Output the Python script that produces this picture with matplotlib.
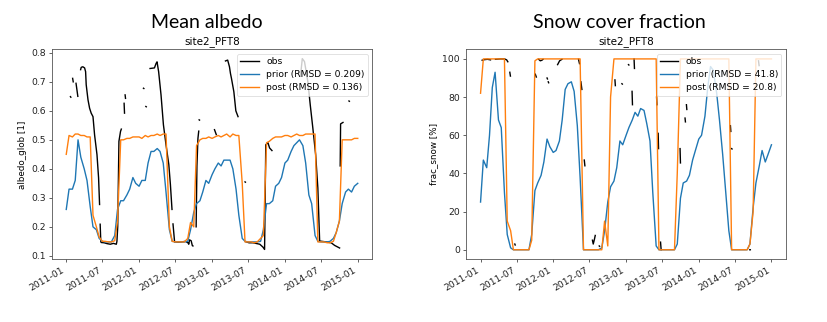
import numpy as np
import pandas as pd
import matplotlib
matplotlib.use("Agg")
import matplotlib.pyplot as plt
import matplotlib.dates as mdates

# ---------------- data ----------------
dates = pd.date_range("2011-01-01", "2015-01-01", freq="SMS")  # 1st and 15th of each month

prior_albedo = [
    0.26, 0.33, 0.33, 0.36, 0.50, 0.44, 0.40, 0.36, 0.27, 0.20, 0.19, 0.16,
    0.15, 0.148, 0.148, 0.148, 0.17, 0.26, 0.29, 0.29, 0.31, 0.33, 0.37, 0.35,
    0.34, 0.36, 0.36, 0.42, 0.46, 0.46, 0.47, 0.46, 0.42, 0.32, 0.19, 0.15,
    0.148, 0.148, 0.148, 0.148, 0.15, 0.19, 0.25, 0.28, 0.29, 0.32, 0.36, 0.35,
    0.38, 0.40, 0.42, 0.41, 0.43, 0.43, 0.43, 0.40, 0.33, 0.24, 0.16, 0.15,
    0.148, 0.148, 0.148, 0.148, 0.15, 0.19, 0.28, 0.28, 0.29, 0.34, 0.35, 0.37,
    0.42, 0.43, 0.46, 0.48, 0.49, 0.50, 0.48, 0.42, 0.31, 0.28, 0.17, 0.15,
    0.148, 0.148, 0.148, 0.15, 0.16, 0.18, 0.22, 0.28, 0.32, 0.33, 0.32, 0.34,
    0.35,
]
post_albedo = [
    0.45, 0.515, 0.51, 0.52, 0.52, 0.515, 0.515, 0.51, 0.51, 0.24, 0.20, 0.165,
    0.15, 0.15, 0.148, 0.148, 0.152, 0.22, 0.50, 0.50, 0.505, 0.505, 0.51, 0.51,
    0.51, 0.505, 0.515, 0.51, 0.515, 0.515, 0.52, 0.515, 0.52, 0.52, 0.20, 0.15,
    0.148, 0.148, 0.148, 0.148, 0.16, 0.215, 0.20, 0.48, 0.50, 0.505, 0.505, 0.51,
    0.505, 0.51, 0.515, 0.51, 0.515, 0.52, 0.51, 0.52, 0.515, 0.515, 0.35, 0.148,
    0.148, 0.148, 0.145, 0.148, 0.16, 0.17, 0.49, 0.495, 0.505, 0.51, 0.51, 0.51,
    0.515, 0.515, 0.51, 0.515, 0.52, 0.515, 0.515, 0.52, 0.52, 0.52, 0.52, 0.148,
    0.148, 0.148, 0.145, 0.145, 0.15, 0.18, 0.22, 0.50, 0.50, 0.50, 0.50, 0.505,
    0.505,
]
prior_snow = [
    25, 47, 43, 60, 85, 93, 68, 64, 30, 8, 1, 0,
    0, 0, 0, 0, 0, 8, 31, 35, 39, 46, 58, 54,
    51, 52, 57, 68, 84, 87, 88, 83, 65, 38, 0, 0,
    0, 0, 0, 0, 1, 10, 25, 33, 36, 43, 57, 55,
    60, 64, 68, 72, 70, 74, 73, 66, 57, 30, 2, 0,
    0, 0, 0, 0, 0, 3, 27, 35, 36, 39, 47, 52,
    58, 60, 70, 85, 96, 94, 82, 68, 50, 32, 10, 0,
    0, 0, 0, 0, 0, 3, 22, 35, 44, 52, 46, 50,
    55,
]
post_snow = [
    82, 100, 100, 100, 100, 100, 100, 100, 100, 15, 10, 0,
    0, 0, 0, 0, 0, 5, 99, 100, 100, 100, 100, 100,
    100, 100, 100, 100, 100, 100, 100, 100, 100, 100, 0, 0,
    0, 0, 0, 0, 0, 15, 2, 80, 100, 100, 100, 100,
    100, 100, 100, 100, 100, 100, 100, 100, 100, 100, 100, 0,
    0, 0, 0, 0, 0, 40, 100, 100, 100, 100, 100, 100,
    100, 100, 100, 100, 100, 100, 100, 100, 100, 100, 100, 0,
    0, 0, 0, 0, 0, 3, 20, 100, 100, 100, 100, 100,
    100,
]

# observations: (date, value), None = gap
obs_albedo = [
    ("2011-01-22", 0.649), ("2011-01-24", 0.647), None,
    ("2011-02-02", 0.712), ("2011-02-05", 0.700), None,
    ("2011-02-19", 0.695), ("2011-02-24", 0.670), ("2011-02-28", 0.650), None,
    ("2011-03-14", 0.742), ("2011-03-17", 0.750), ("2011-03-25", 0.752), ("2011-04-03", 0.748),
    ("2011-04-08", 0.735), ("2011-04-11", 0.690), ("2011-04-20", 0.638), ("2011-04-28", 0.609),
    ("2011-05-06", 0.592), ("2011-05-15", 0.580), ("2011-05-23", 0.517), ("2011-06-04", 0.449),
    ("2011-06-12", 0.369), ("2011-06-17", 0.277), None,
    ("2011-06-20", 0.209), ("2011-06-23", 0.150), ("2011-06-25", 0.146), ("2011-07-10", 0.145),
    ("2011-07-25", 0.142), ("2011-08-10", 0.140), ("2011-08-25", 0.143), ("2011-09-09", 0.140),
    ("2011-09-12", 0.150), ("2011-09-16", 0.200), ("2011-09-22", 0.495), ("2011-09-30", 0.529),
    ("2011-10-04", 0.537), None,
    ("2011-10-18", 0.626), ("2011-10-20", 0.592), None,
    ("2011-10-23", 0.655), ("2011-10-25", 0.643), None,
    ("2012-01-23", 0.678), ("2012-01-25", 0.677), None,
    ("2012-02-04", 0.615), ("2012-02-06", 0.614), None,
    ("2012-02-25", 0.746), ("2012-03-18", 0.748), ("2012-03-26", 0.763), ("2012-03-31", 0.769),
    ("2012-04-08", 0.735), ("2012-04-20", 0.655), ("2012-05-02", 0.552), ("2012-05-15", 0.483),
    ("2012-05-29", 0.415), ("2012-06-06", 0.346), ("2012-06-14", 0.260), None,
    ("2012-06-19", 0.210), ("2012-06-27", 0.148), ("2012-07-15", 0.147), ("2012-08-01", 0.148),
    ("2012-08-20", 0.150), ("2012-09-02", 0.145), ("2012-09-06", 0.140), ("2012-09-10", 0.155),
    ("2012-09-18", 0.152), ("2012-09-24", 0.135), ("2012-09-27", 0.134), None,
    ("2012-10-13", 0.200), ("2012-10-17", 0.410), ("2012-10-22", 0.505), ("2012-10-26", 0.530), None,
    ("2012-10-28", 0.569), ("2012-10-30", 0.568), None,
    ("2013-01-13", 0.535), ("2013-01-18", 0.525), ("2013-01-22", 0.518), None,
    ("2013-03-09", 0.772), ("2013-03-20", 0.775), ("2013-03-29", 0.752), ("2013-04-03", 0.729),
    ("2013-04-08", 0.712), ("2013-04-20", 0.666), ("2013-04-30", 0.600), ("2013-05-11", 0.580), None,
    ("2013-06-15", 0.355), ("2013-06-17", 0.354), None,
    ("2013-06-18", 0.149), ("2013-07-05", 0.145), ("2013-07-25", 0.145), ("2013-08-15", 0.142),
    ("2013-08-28", 0.140), ("2013-09-05", 0.135), ("2013-09-13", 0.130), ("2013-09-21", 0.122),
    ("2013-09-27", 0.483), ("2013-10-08", 0.490), ("2013-10-16", 0.472), ("2013-10-28", 0.463), None,
    ("2014-03-20", 0.720), ("2014-03-29", 0.780), ("2014-04-09", 0.770), ("2014-04-26", 0.700),
    ("2014-05-08", 0.620), ("2014-05-21", 0.540), ("2014-06-04", 0.449), ("2014-06-15", 0.334),
    ("2014-06-24", 0.151), ("2014-07-27", 0.148), ("2014-08-21", 0.145), ("2014-09-07", 0.136),
    ("2014-10-02", 0.127), None,
    ("2014-10-05", 0.410), ("2014-10-07", 0.555), ("2014-10-19", 0.560), None,
    ("2014-11-18", 0.634), ("2014-11-20", 0.633),
]
obs_snow = [
    ("2011-01-09", 99.3), ("2011-01-20", 99.6), ("2011-02-05", 99.8), ("2011-02-20", 99.5), None,
    ("2011-03-17", 99.8), ("2011-04-10", 100.0), ("2011-05-01", 100.0), ("2011-05-12", 99.5),
    ("2011-05-18", 98.5), None,
    ("2011-05-28", 93.0), ("2011-05-31", 91.0), None,
    ("2011-06-22", 3.0), ("2011-06-24", 2.5), None,
    ("2011-10-03", 92.0), ("2011-10-08", 90.5), None,
    ("2011-10-20", 99.8), ("2011-10-28", 99.0), ("2011-11-05", 99.3), ("2011-11-11", 99.8), None,
    ("2011-12-01", 90.0), ("2011-12-03", 89.5), None,
    ("2011-12-07", 88.0), ("2011-12-09", 87.5), None,
    ("2012-01-23", 97.0), ("2012-02-02", 99.0), ("2012-02-14", 99.8), None,
    ("2012-05-07", 99.8), ("2012-05-12", 97.5), None,
    ("2012-05-19", 88.0), ("2012-05-24", 84.0), None,
    ("2012-06-05", 47.0), ("2012-06-08", 44.0), None,
    ("2012-07-16", 5.0), ("2012-07-20", 3.0), ("2012-07-26", 5.5), ("2012-07-30", 7.5), None,
    ("2012-08-19", 2.0), ("2012-08-21", 1.8), None,
    ("2012-11-06", 89.0), ("2012-11-08", 86.0), None,
    ("2012-12-11", 87.0), ("2012-12-13", 86.8), None,
    ("2013-01-13", 97.0), ("2013-01-15", 96.8), None,
    ("2013-01-31", 83.0), ("2013-02-02", 76.0), None,
    ("2013-02-10", 100.0), ("2013-02-12", 95.0), None,
    ("2013-06-03", 80.0), ("2013-06-05", 76.0), None,
    ("2013-06-11", 61.0), ("2013-06-13", 53.0), None,
    ("2013-06-23", 4.0), ("2013-06-26", 0.0), None,
    ("2013-09-29", 53.0), ("2013-10-01", 45.5), None,
    ("2013-10-24", 69.0), ("2013-10-26", 67.0), None,
    ("2013-10-31", 76.0), ("2013-11-02", 73.5), None,
    ("2014-06-09", 65.0), ("2014-06-11", 62.0), None,
    ("2014-06-15", 53.0), ("2014-06-17", 52.8), None,
    ("2014-09-14", 0.0), ("2014-09-17", 0.0), None,
    ("2014-10-28", 99.0), ("2014-10-31", 96.5),
]

legend_albedo = ["obs", "prior (RMSD = 0.209)", "post (RMSD = 0.136)"]
legend_snow = ["obs", "prior (RMSD = 41.8)", "post (RMSD = 20.8)"]
site_title = "site2_PFT8"
big_titles = ["Mean albedo", "Snow cover fraction"]
ylabels = ["albedo_glob [1]", "frac_snow [%]"]


def obs_to_xy(obs):
    xs, ys = [], []
    last = None
    for p in obs:
        if p is None:
            xs.append(last)
            ys.append(np.nan)
        else:
            last = pd.Timestamp(p[0])
            xs.append(last)
            ys.append(p[1])
    return xs, ys


# ---------------- figure ----------------
plt.rcParams["font.family"] = ["DejaVu Sans"]
fig = plt.figure(figsize=(8.27, 3.22), dpi=100)

ax1 = fig.add_axes([0.0625, 0.1947, 0.3877, 0.652])
ax2 = fig.add_axes([0.5635, 0.1947, 0.3869, 0.652])

panels = [
    (ax1, obs_albedo, prior_albedo, post_albedo, legend_albedo, (0.088, 0.812), np.arange(0.1, 0.81, 0.1), "%.1f"),
    (ax2, obs_snow, prior_snow, post_snow, legend_snow, (-5, 105), np.arange(0, 101, 20), "%d"),
]

for i, (ax, obs, prior, post, labels, ylim, yt, fmt) in enumerate(panels):
    ox, oy = obs_to_xy(obs)
    ax.plot(ox, oy, color="black", lw=1.0, label=labels[0])
    ax.plot(dates, prior, color="#1f77b4", lw=1.0, label=labels[1])
    ax.plot(dates, post, color="#ff7f0e", lw=1.0, label=labels[2])
    ax.set_xlim(pd.Timestamp("2011-01-01") - pd.Timedelta(days=73),
                pd.Timestamp("2015-01-01") + pd.Timedelta(days=73))
    ax.set_ylim(*ylim)
    ax.set_yticks(yt)
    ax.yaxis.set_major_formatter(matplotlib.ticker.FormatStrFormatter(fmt))
    ax.xaxis.set_major_locator(mdates.MonthLocator(bymonth=[1, 7]))
    ax.xaxis.set_major_formatter(mdates.DateFormatter("%Y-%m"))
    for lab in ax.get_xticklabels():
        lab.set_rotation(30)
        lab.set_ha("right")
    ax.tick_params(labelsize=6.7, length=2.4, width=0.5, colors="#222222", pad=2)
    for s in ax.spines.values():
        s.set_linewidth(0.6)
        s.set_color("#555555")
    ax.set_title(site_title, fontsize=7.5, pad=4)
    ax.set_ylabel(ylabels[i], fontsize=6.3, labelpad=3)
    leg = ax.legend(loc="upper right", fontsize=6.6, handlelength=2.0,
                    borderpad=0.35, labelspacing=0.45)
    leg.get_frame().set_linewidth(0.5)

fig.text(0.250, 0.912, big_titles[0], family="Lato", fontsize=14, ha="center", va="baseline")
fig.text(0.749, 0.912, big_titles[1], family="Lato", fontsize=14, ha="center", va="baseline")

fig.savefig("out.png", dpi=100)
